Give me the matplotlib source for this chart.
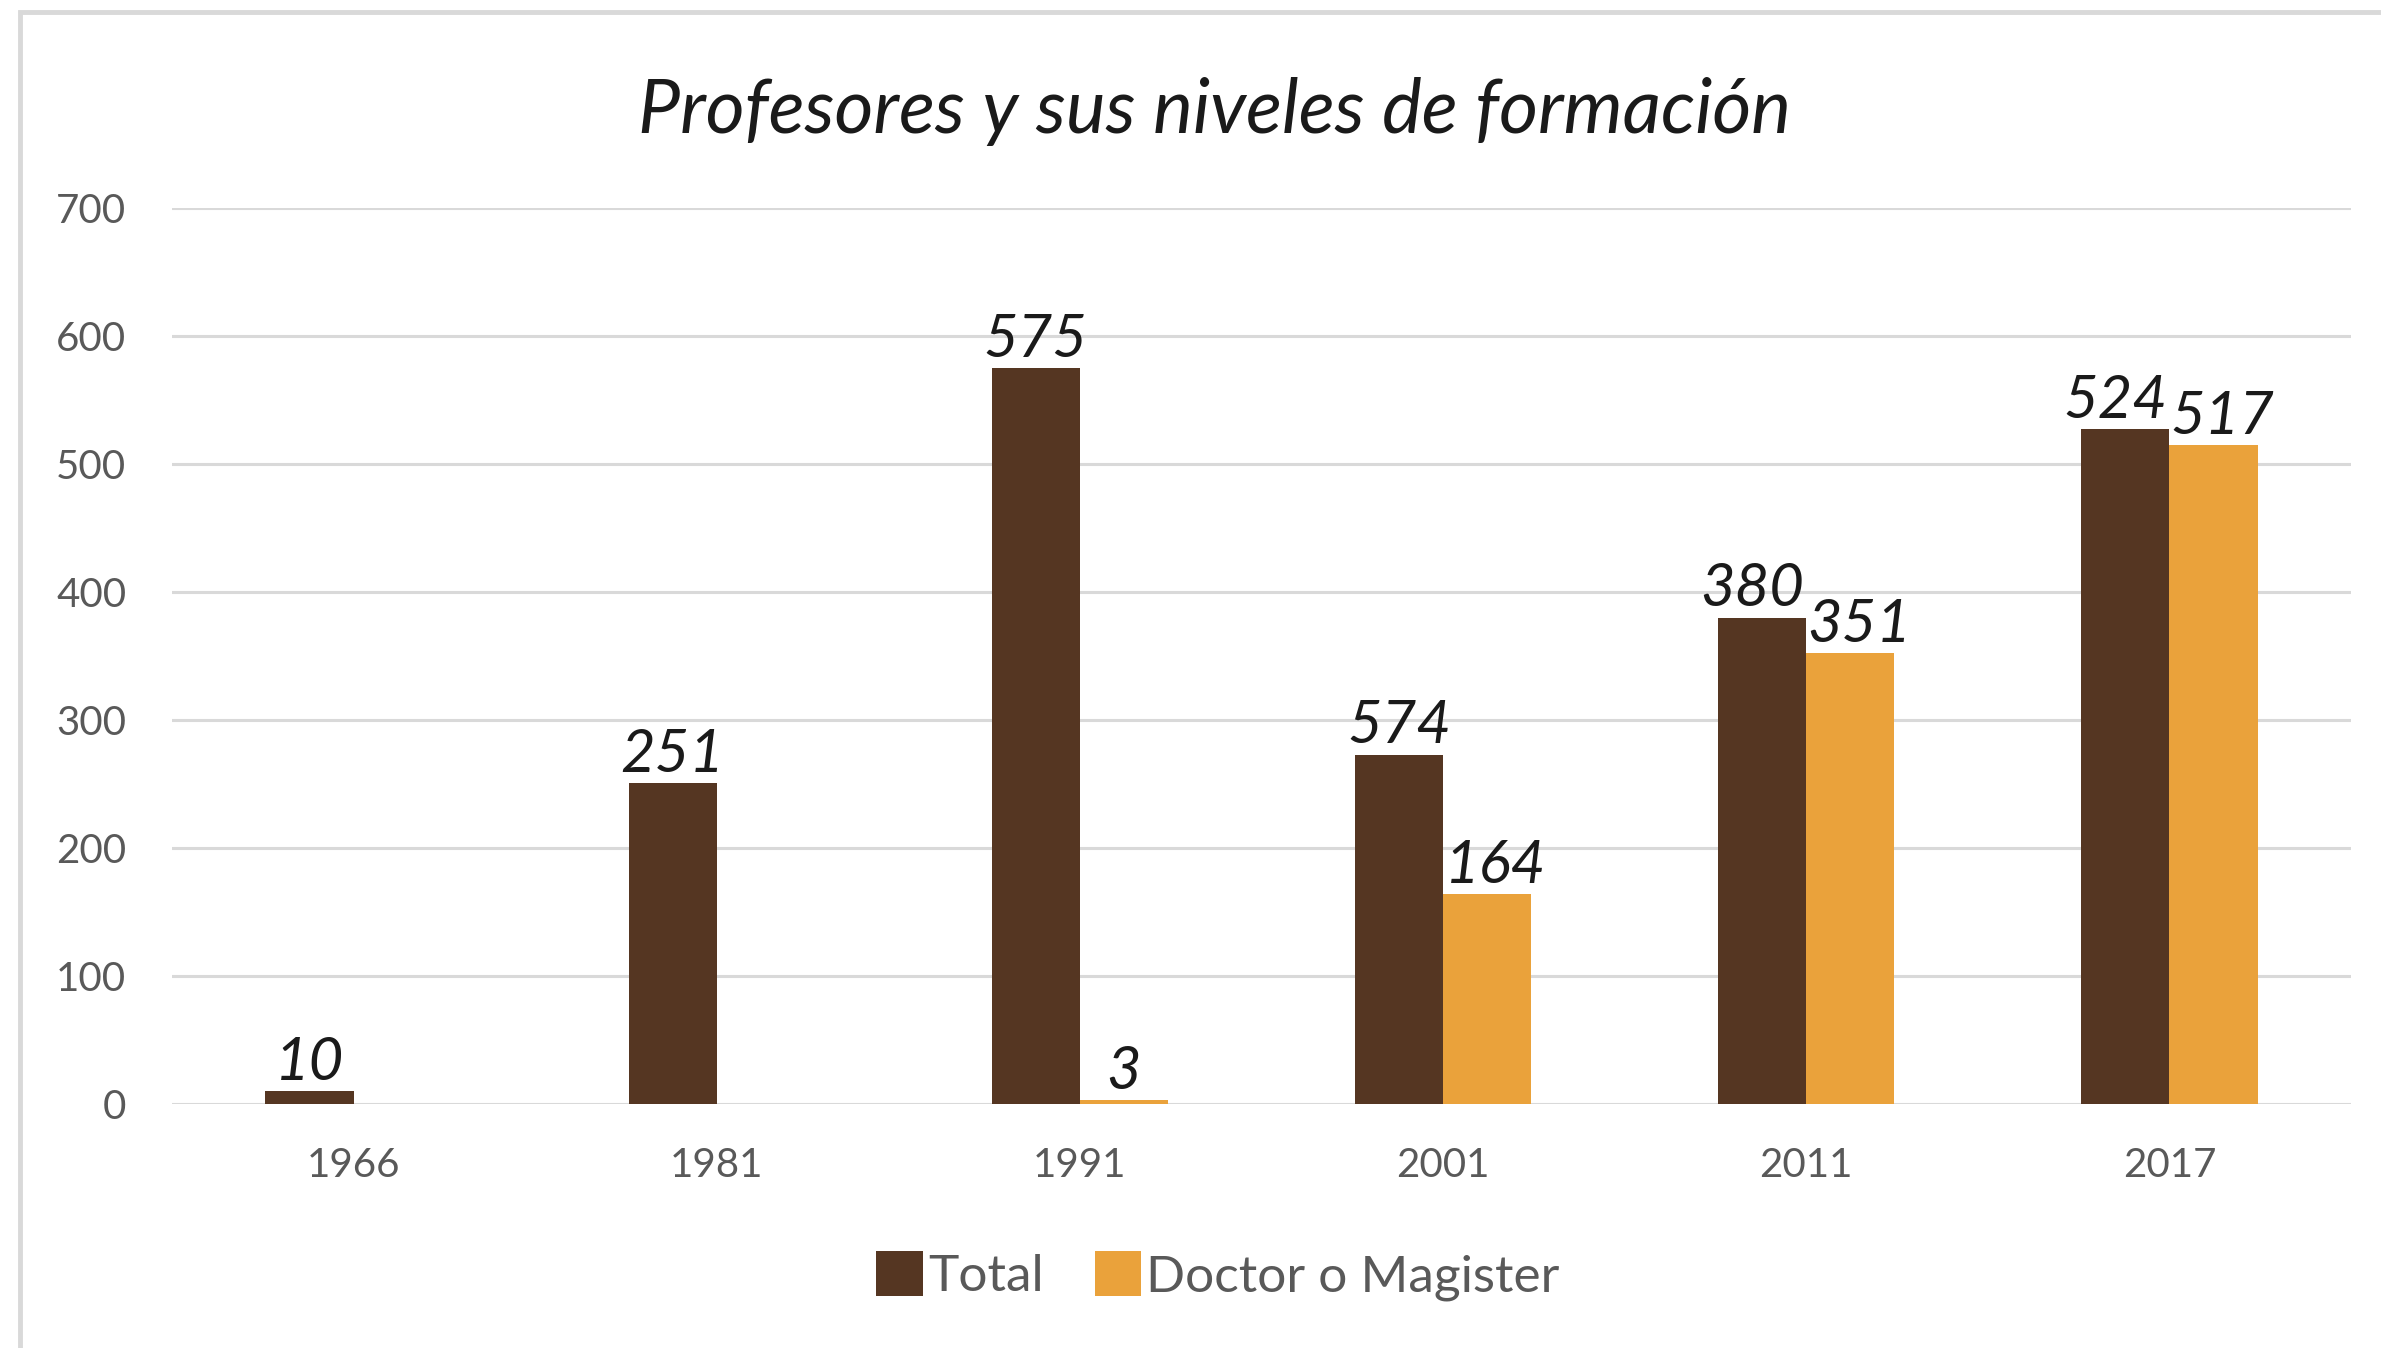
import matplotlib.pyplot as plt
import numpy as np
from matplotlib.patches import Rectangle

plt.rcParams['font.family'] = ['Lato', 'DejaVu Sans']

years = ['1966', '1981', '1991', '2001', '2011', '2017']
total = [10, 251, 575, 273, 380, 527]
doctor = [0, 0, 3, 164, 352, 515]
# text printed over the bars (as shown in the original, not always = bar height)
total_lbl = ['10', '251', '575', '574', '380', '524']
doctor_lbl = ['', '', '3', '164', '351', '517']

c_total = '#553622'
c_doctor = '#EAA23B'
grey_txt = '#595959'

W, H = 2381, 1348
fig = plt.figure(figsize=(W / 100, H / 100), dpi=100)
ax = fig.add_axes([172 / W, 1 - 1104 / H, (2351 - 172) / W, (1104 - 208) / H])

# light frame of the chart box
fig.patches.append(Rectangle((20 / W, -0.1), 1.2, 1 - 12 / H + 0.1, transform=fig.transFigure,
                             fill=False, edgecolor='#d9d9d9', linewidth=3.5))

x = np.arange(len(years))
w = 0.243
b1 = ax.bar(x - w / 2, total, w, color=c_total, label='Total', zorder=3)
b2 = ax.bar(x + w / 2, doctor, w, color=c_doctor, label='Doctor o Magister', zorder=3)

lbl_kw = dict(ha='center', va='baseline', textcoords='offset points', fontsize=43,
              style='italic', color='#1a1a1a', zorder=4)
for i, (r, t) in enumerate(zip(b1, total_lbl)):
    # nudge apart when both bars of a pair carry a label and sit close in height
    close = doctor_lbl[i] and abs(total[i] - doctor[i]) < 60
    dx = -7 if close else 0
    ax.annotate(t, (r.get_x() + r.get_width() / 2, r.get_height()), xytext=(dx, 8), **lbl_kw)
for r, t in zip(b2, doctor_lbl):
    if t:
        dx = 6 if r.get_height() > 100 else 0
        ax.annotate(t, (r.get_x() + r.get_width() / 2, r.get_height()), xytext=(dx, 8), **lbl_kw)

ax.set_xlim(-0.5, 5.5)
ax.set_ylim(0, 700)
ax.set_yticks(range(0, 701, 100))
ax.set_xticks(x)
ax.set_xticklabels(years)
ax.yaxis.grid(True, color='#d9d9d9', linewidth=2.2, zorder=0)
ax.set_axisbelow(True)
for s in ax.spines.values():
    s.set_visible(False)
ax.tick_params(axis='both', length=0, labelsize=29, colors=grey_txt)
ax.tick_params(axis='y', pad=33)
ax.tick_params(axis='x', pad=31)

fig.text(1215 / W, 1 - 112 / H, 'Profesores y sus niveles de formación', ha='center', va='center',
         fontsize=54, style='italic', color='#1a1a1a')

fig.legend(loc='center', bbox_to_anchor=(1218 / W, 1 - 1276 / H), ncol=2, frameon=False,
           fontsize=37, labelcolor=grey_txt, handlelength=0.9, handleheight=0.95,
           handletextpad=0.1, columnspacing=1.0)

fig.savefig('out.png', dpi=100)
